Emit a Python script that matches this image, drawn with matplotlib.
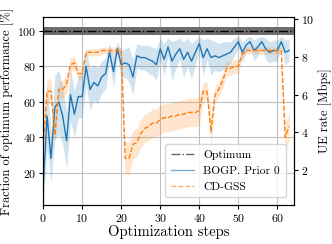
import numpy as np
import matplotlib
matplotlib.use("Agg")
import matplotlib.pyplot as plt

plt.rcParams["font.family"] = ["cmr10", "DejaVu Serif"]
plt.rcParams["axes.formatter.use_mathtext"] = True
plt.rcParams["mathtext.fontset"] = "cm"

# optimum rate (Mbps) corresponding to 100 %
OPT_RATE = 9.37

steps = np.arange(64)

bogp_mean = [12, 52, 28, 57, 60, 52, 38, 64, 53, 63,
             63, 80, 67, 71, 69, 74, 76, 88, 77, 90,
             81, 82, 81, 74, 86, 85, 85, 84, 83, 81,
             90, 84, 91, 83, 87, 90, 84, 88, 83, 88,
             93, 85, 90, 85, 86, 85, 86, 87, 88, 91,
             94, 88, 92, 94, 89, 91, 94, 90, 88, 89,
             89, 94, 88, 89]
bogp_spread = [10, 18, 14, 18, 18, 16, 16, 15, 13, 12,
               12, 10, 12, 10, 10, 9, 9, 5, 9, 4,
               8, 8, 10, 10, 7, 7, 7, 8, 8, 9,
               6, 9, 5, 11, 8, 6, 10, 8, 10, 7,
               4, 10, 6, 10, 8, 8, 8, 7, 6, 5,
               3, 6, 4, 3, 6, 5, 3, 6, 6, 6,
               6, 3, 7, 6]

cdgss_mean = [35, 66, 66, 41, 67, 67, 70, 81, 82, 76,
              76, 88, 88, 88, 88, 89, 89, 89, 89, 89,
              89, 28, 28, 36, 37, 42, 45, 46, 48, 48,
              50, 51, 51, 52, 52, 53, 53, 54, 54, 54,
              55, 66, 66, 43, 64, 67, 72, 79, 79, 80,
              80, 87, 89, 89, 89, 89, 89, 89, 89, 89,
              89, 89, 40, 46]
cdgss_spread = [6, 7, 7, 5, 5, 5, 5, 4, 4, 3,
                3, 2, 2, 2, 2, 2, 2, 2, 2, 2,
                2, 9, 9, 8, 8, 8, 8, 8, 8, 8,
                8, 8, 8, 8, 8, 8, 8, 8, 8, 8,
                8, 5, 5, 8, 5, 4, 4, 4, 4, 4,
                4, 2, 2, 2, 2, 2, 2, 2, 2, 2,
                2, 2, 8, 8]

optimum = 100
optimum_spread = 2.3

bogp_mean = np.array(bogp_mean, dtype=float)
bogp_spread = np.array(bogp_spread, dtype=float)
cdgss_mean = np.array(cdgss_mean, dtype=float)
cdgss_spread = np.array(cdgss_spread, dtype=float)

fig = plt.figure(figsize=(3.32, 2.44), dpi=100)
ax = fig.add_axes([0.130, 0.160, 0.756, 0.770])

ax.fill_between([0, 64.3], optimum - optimum_spread, optimum + optimum_spread,
                color="#6e6e6e", linewidth=0, zorder=2)
ax.plot([0, 64.3], [optimum, optimum], color="black", linestyle="-.",
        linewidth=1.0, label="Optimum", zorder=3)

ax.fill_between(steps, bogp_mean - bogp_spread, bogp_mean + bogp_spread,
                color="#1f77b4", alpha=0.2, linewidth=0, zorder=2)
ax.plot(steps, bogp_mean, color="#1f77b4", linewidth=1.0,
        label="BOGP. Prior 0", zorder=3)

ax.fill_between(steps, cdgss_mean - cdgss_spread, cdgss_mean + cdgss_spread,
                color="#ff7f0e", alpha=0.2, linewidth=0, zorder=2)
ax.plot(steps, cdgss_mean, color="#ff7f0e", linewidth=1.0,
        linestyle=(0, (3.5, 1.5)), label="CD-GSS", zorder=3)

ax.set_xlim(0, 64.3)
ax.set_ylim(1.7, 107.9)
ax.set_xticks([0, 10, 20, 30, 40, 50, 60])
ax.set_yticks([20, 40, 60, 80, 100])
ax.tick_params(labelsize=8.5, length=3, width=0.8, pad=2)
ax.grid(True, color="#c0c0c0", linewidth=0.8, zorder=0)
ax.set_axisbelow(True)
ax.set_xlabel("Optimization steps", fontsize=10.5, labelpad=1)
ax.set_ylabel("Fraction of optimum performance [%]", fontsize=9, labelpad=2)

ax2 = ax.twinx()
lo, hi = ax.get_ylim()
ax2.set_ylim(lo * OPT_RATE / 100, hi * OPT_RATE / 100)
ax2.set_yticks([2, 4, 6, 8, 10])
ax2.tick_params(labelsize=8.5, length=3, width=0.8, pad=2)
ax2.set_ylabel("UE rate [Mbps]", fontsize=9, labelpad=3)

leg = ax.legend(loc="lower right", fontsize=8.3, framealpha=0.8,
                borderpad=0.5, labelspacing=0.5, handlelength=2.0,
                bbox_to_anchor=(0.99, 0.01))
for h in leg.get_lines():
    h.set_alpha(0.6)
leg.set_zorder(10)

fig.savefig("out.png", dpi=100)
